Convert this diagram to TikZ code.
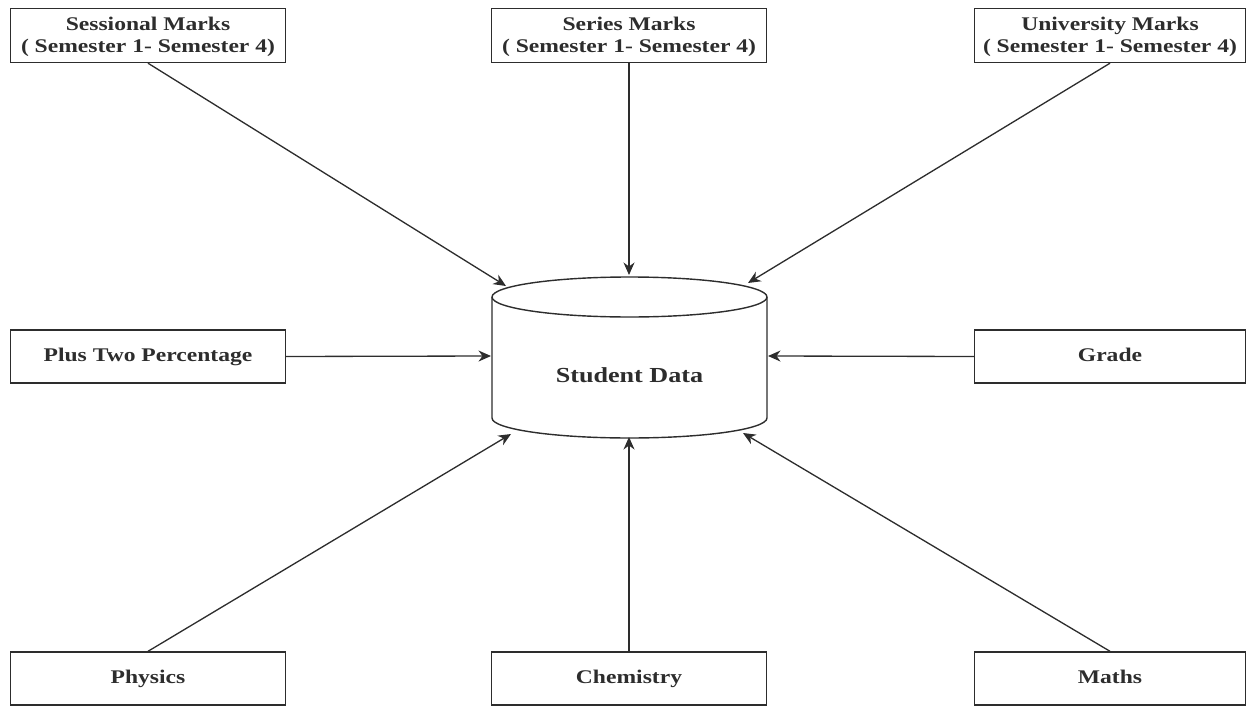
\documentclass[tikz,border=0pt]{standalone}
\usepackage{fontspec}
\setmainfont{Liberation Serif}[FakeStretch=1.22]
\usetikzlibrary{arrows.meta}
\definecolor{ink}{RGB}{45,45,45}
\begin{document}
\begin{tikzpicture}[x=0.02cm, y=-0.02cm,
  every node/.style={text=ink},
  box/.style={draw=ink, line width=0.8pt, minimum width=5.5cm, minimum height=1.08cm,
    inner sep=0pt, align=center, font=\fontsize{11}{12.6}\selectfont\bfseries},
  single/.style={box, minimum height=1.06cm, text height=1.6ex, text depth=0.3ex},
  feed/.style={draw=ink, line width=0.75pt, -{Stealth[length=2.5mm, width=2.2mm, inset=0.8mm]}}]
\useasboundingbox (0,0) rectangle (1250,706);

% data sources
\node[box] (sess) at (148,35.5) {\strut Sessional Marks\\( Semester 1- Semester 4)};
\node[box] (seri) at (629,35.5) {\strut Series Marks\\( Semester 1- Semester 4)};
\node[box, minimum width=5.42cm] (univ) at (1110,35.5) {\strut University Marks\\( Semester 1- Semester 4)};
\node[single] (plus) at (148,356.5) {Plus Two Percentage};
\node[single, minimum width=5.42cm] (grade) at (1110,356.5) {Grade};
\node[single] (phys) at (148,678.5) {Physics};
\node[single] (chem) at (629,678.5) {Chemistry};
\node[single, minimum width=5.42cm] (math) at (1110,678.5) {Maths};

% database cylinder
\draw[ink, line width=0.8pt] (492,297) -- (492,418) arc (180:360:2.75cm and 0.4cm) -- (767,297);
\draw[ink, line width=0.8pt] (629.5,297) ellipse (2.75cm and 0.4cm);
\node[font=\fontsize{12.2}{14}\selectfont\bfseries] (db) at (629.5,375) {Student Data};

% arrow tips on the cylinder
\coordinate (tSess) at (506,286);
\coordinate (tSeri) at (629,275);
\coordinate (tUniv) at (748,283);
\coordinate (tPlus) at (491,356);
\coordinate (tGrade) at (768,356);
\coordinate (tPhys) at (511,434);
\coordinate (tChem) at (629,437);
\coordinate (tMath) at (743,433);

% connectors
\draw[feed] (sess.south) -- (tSess);
\draw[feed] (seri.south) -- (tSeri);
\draw[feed] (univ.south) -- (tUniv);
\draw[feed] (plus.east) -- (tPlus);
\draw[feed] (grade.west) -- (tGrade);
\draw[feed] (phys.north) -- (tPhys);
\draw[feed] (chem.north) -- (tChem);
\draw[feed] (math.north) -- (tMath);
\end{tikzpicture}
\end{document}
